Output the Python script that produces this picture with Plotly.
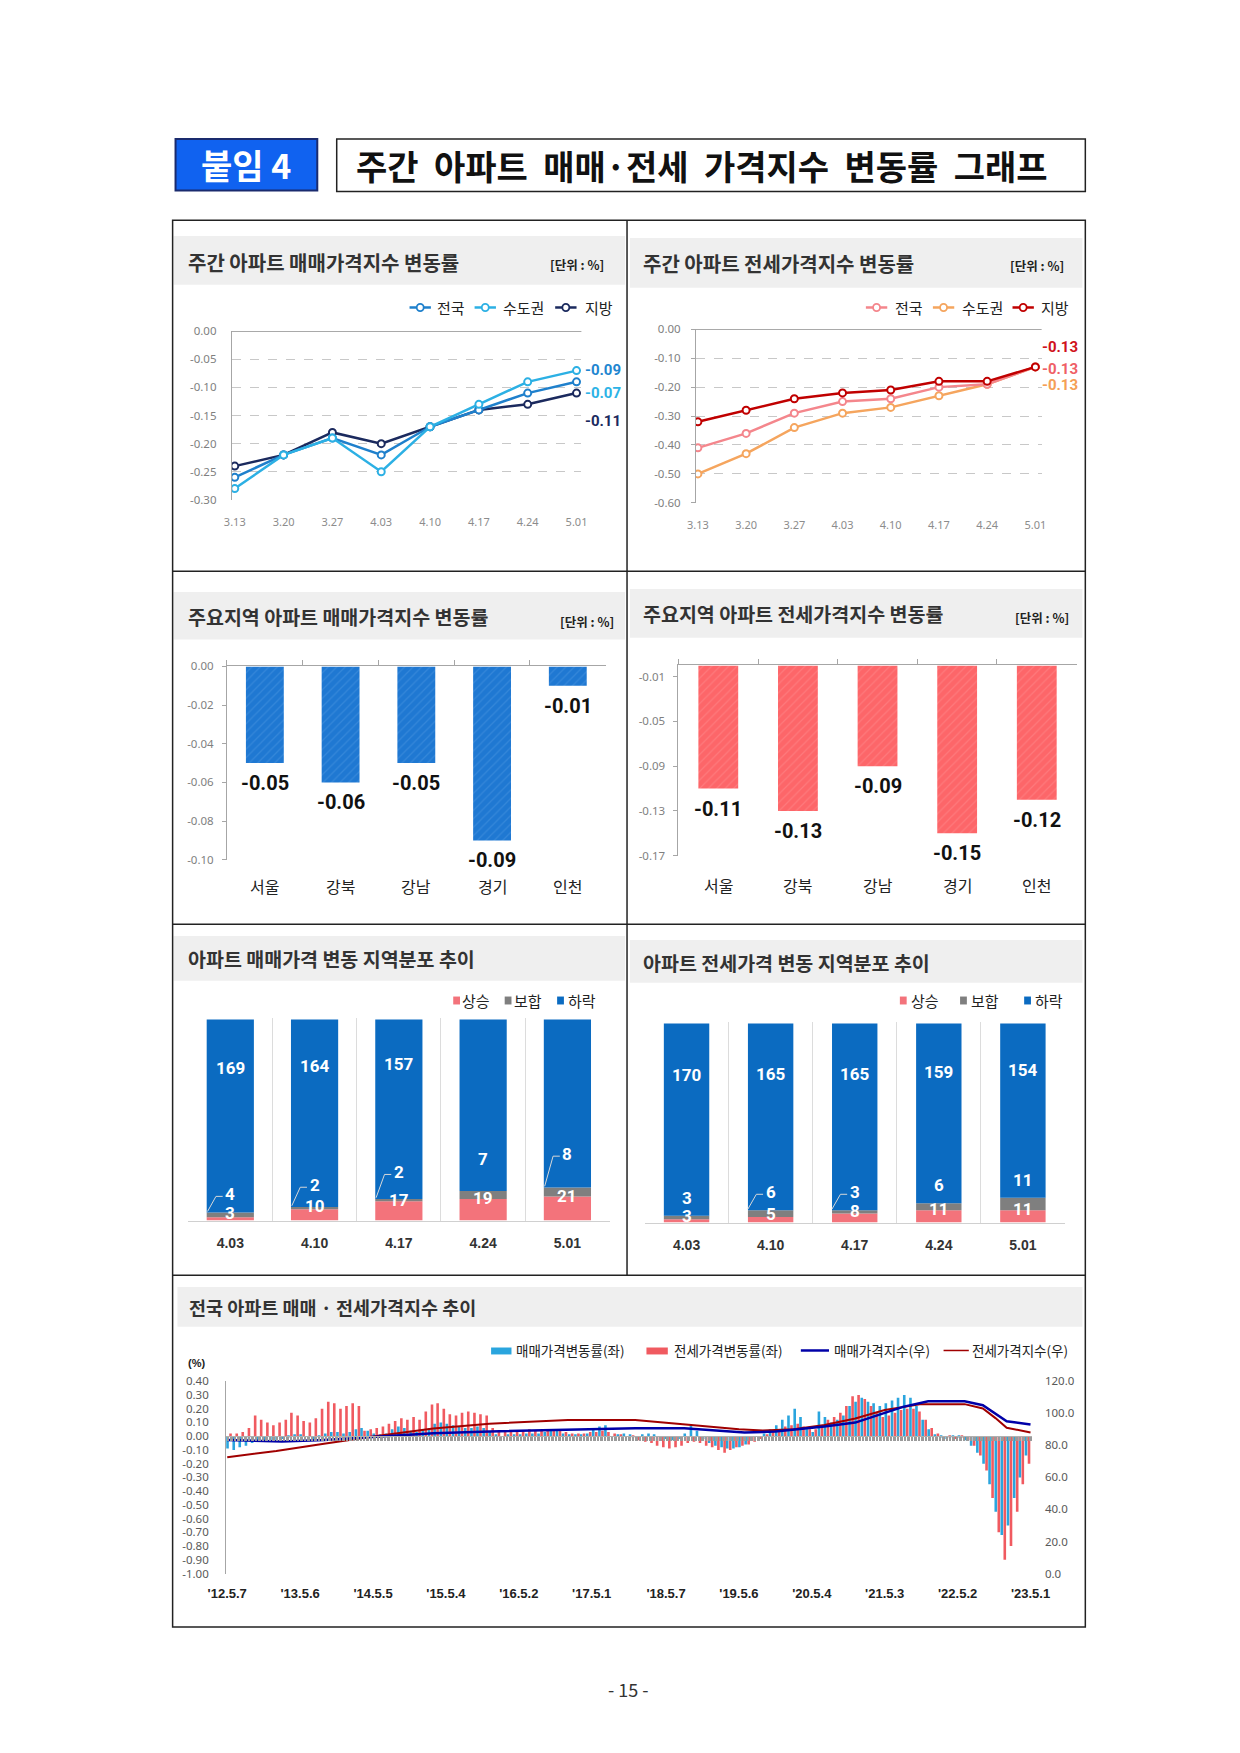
import plotly.graph_objects as go
import pandas as pd

W, H = 1240, 1753

# ---------------- data ----------------
weeks = ["3.13", "3.20", "3.27", "4.03", "4.10", "4.17", "4.24", "5.01"]
sale_nation = [-0.26, -0.22, -0.19, -0.22, -0.17, -0.14, -0.11, -0.09]
sale_capital = [-0.28, -0.22, -0.19, -0.25, -0.17, -0.13, -0.09, -0.07]
sale_local = [-0.24, -0.22, -0.18, -0.20, -0.17, -0.14, -0.13, -0.11]
jeonse_nation = [-0.41, -0.36, -0.29, -0.25, -0.24, -0.20, -0.19, -0.13]
jeonse_capital = [-0.50, -0.43, -0.34, -0.29, -0.27, -0.23, -0.19, -0.13]
jeonse_local = [-0.32, -0.28, -0.24, -0.22, -0.21, -0.18, -0.18, -0.13]
sale_ticks = [0.00, -0.05, -0.10, -0.15, -0.20, -0.25, -0.30]
jeonse_ticks = [0.00, -0.10, -0.20, -0.30, -0.40, -0.50, -0.60]

regions = ["서울", "강북", "강남", "경기", "인천"]
region_sale = [-0.05, -0.06, -0.05, -0.09, -0.01]
region_jeonse = [-0.11, -0.13, -0.09, -0.15, -0.12]
region_sale_ticks = [0.00, -0.02, -0.04, -0.06, -0.08, -0.10]
region_jeonse_ticks = [-0.01, -0.05, -0.09, -0.13, -0.17]

dist_weeks = ["4.03", "4.10", "4.17", "4.24", "5.01"]
sale_up = [3, 10, 17, 19, 21]
sale_flat = [4, 2, 2, 7, 8]
sale_down = [169, 164, 157, 150, 147]
sale_down_text = ["169", "164", "157", "", ""]
jeonse_up = [3, 5, 8, 11, 11]
jeonse_flat = [3, 6, 3, 6, 11]
jeonse_down = [170, 165, 165, 159, 154]
jeonse_down_text = ["170", "165", "165", "159", "154"]

# monthly readings (May 2012 - Apr 2023) of the weekly change rates (%)
trend_months = pd.date_range("2012-05-01", "2023-04-01", freq="MS")
sale_rate = [
    -0.09, -0.10, -0.08, -0.07, -0.05, -0.04, -0.03, -0.03,
    -0.03, -0.02, -0.01, 0.01, 0.01, 0.00, -0.02, -0.01, 0.02, 0.03, 0.03, 0.02,
    0.03, 0.05, 0.06, 0.04, 0.02, 0.01, 0.02, 0.05, 0.07, 0.06, 0.04, 0.03,
    0.05, 0.06, 0.09, 0.10, 0.09, 0.08, 0.07, 0.06, 0.06, 0.07, 0.06, 0.03,
    0.01, 0.00, 0.01, 0.01, 0.01, 0.02, 0.02, 0.02, 0.03, 0.05, 0.04, 0.02,
    0.01, 0.01, 0.01, 0.02, 0.05, 0.07, 0.08, 0.00, 0.01, 0.02, 0.01, 0.00,
    0.01, 0.02, 0.01, 0.00, -0.02, -0.03, -0.02, 0.02, 0.08, 0.04, -0.02, -0.05,
    -0.07, -0.08, -0.09, -0.09, -0.08, -0.06, -0.03, 0.00, 0.02, 0.05, 0.08, 0.12,
    0.15, 0.20, 0.14, 0.05, 0.03, 0.18, 0.14, 0.10, 0.12, 0.15, 0.22, 0.25,
    0.28, 0.25, 0.24, 0.22, 0.24, 0.26, 0.28, 0.30, 0.28, 0.22, 0.12, 0.05,
    0.01, -0.01, -0.02, -0.01, -0.01, -0.03, -0.07, -0.12, -0.20, -0.35, -0.55, -0.72,
    -0.65, -0.45, -0.30, -0.14,
]
jeonse_rate = [
    0.02, 0.02, 0.03, 0.06, 0.15, 0.12, 0.10, 0.08,
    0.10, 0.12, 0.17, 0.15, 0.11, 0.10, 0.13, 0.20, 0.25, 0.24, 0.20, 0.22,
    0.24, 0.22, 0.04, 0.05, 0.06, 0.07, 0.09, 0.11, 0.13, 0.12, 0.14, 0.12,
    0.18, 0.23, 0.24, 0.20, 0.16, 0.15, 0.17, 0.18, 0.17, 0.16, 0.15, 0.06,
    0.04, 0.03, 0.03, 0.04, 0.04, 0.05, 0.04, 0.04, 0.05, 0.05, 0.04, 0.03,
    0.02, 0.02, 0.02, 0.03, 0.03, 0.04, 0.03, 0.02, 0.01, 0.00, -0.01, -0.03,
    -0.04, -0.05, -0.07, -0.08, -0.09, -0.08, -0.07, -0.05, -0.04, -0.05, -0.07, -0.08,
    -0.10, -0.12, -0.10, -0.08, -0.07, -0.06, -0.04, -0.02, 0.01, 0.03, 0.05, 0.07,
    0.08, 0.09, 0.07, 0.05, 0.05, 0.08, 0.12, 0.14, 0.17, 0.22, 0.29, 0.30,
    0.27, 0.22, 0.17, 0.14, 0.15, 0.17, 0.19, 0.20, 0.20, 0.18, 0.12, 0.06,
    0.02, 0.00, -0.01, -0.02, -0.01, -0.03, -0.07, -0.14, -0.25, -0.45, -0.70, -0.90,
    -0.80, -0.55, -0.35, -0.20,
]
sale_index_dates = ["2012-05-07", "2013-02-04", "2013-09-02", "2014-06-02", "2015-03-02",
                    "2015-12-07", "2017-01-02", "2017-12-04", "2018-08-06", "2018-12-03",
                    "2019-06-03", "2019-11-04", "2020-02-03", "2020-07-06", "2020-12-07",
                    "2021-04-05", "2021-08-02", "2021-12-06", "2022-06-06", "2022-09-05",
                    "2022-11-07", "2023-01-02", "2023-05-01"]
sale_index = [83.4, 82.4, 83.4, 85.7, 87.6, 88.6, 89.6, 90.7, 90.7, 89.6, 88.0, 88.6, 89.6,
              91.7, 94.2, 98.9, 104.0, 107.5, 107.5, 105.0, 100.0, 95.0, 93.0]
jeonse_index_dates = ["2012-05-07", "2013-01-07", "2013-09-02", "2014-06-02", "2015-03-02",
                      "2015-12-07", "2017-01-02", "2017-12-04", "2018-06-04", "2019-05-06",
                      "2019-09-02", "2020-02-03", "2020-07-06", "2020-12-07", "2021-05-03",
                      "2021-11-01", "2022-06-06", "2022-09-05", "2022-11-07", "2023-01-02",
                      "2023-05-01"]
jeonse_index = [72.6, 76.5, 81.0, 86.0, 90.5, 93.5, 95.8, 95.8, 93.7, 90.0, 89.2, 90.0, 92.7,
                96.8, 102.0, 105.7, 105.7, 103.0, 97.0, 91.0, 88.0]
trend_ticks = ["2012-05-07", "2013-05-06", "2014-05-05", "2015-05-04", "2016-05-02",
               "2017-05-01", "2018-05-07", "2019-05-06", "2020-05-04", "2021-05-03",
               "2022-05-02", "2023-05-01"]
trend_tick_labels = ["'12.5.7", "'13.5.6", "'14.5.5", "'15.5.4", "'16.5.2", "'17.5.1",
                     "'18.5.7", "'19.5.6", "'20.5.4", "'21.5.3", "'22.5.2", "'23.5.1"]
rate_ticks = [0.40, 0.30, 0.20, 0.10, 0.00, -0.10, -0.20, -0.30, -0.40, -0.50,
              -0.60, -0.70, -0.80, -0.90, -1.00]
index_ticks = [0, 20, 40, 60, 80, 100, 120]

# ---------------- styles ----------------
KR = "Noto Sans CJK KR"
NUM = "Liberation Sans Narrow, Roboto, Noto Sans, sans-serif"
ARIAL = "Liberation Sans, Arial, sans-serif"
TICK = "Noto Sans, sans-serif"
BAND = "#efefef"
C_SN, C_SC, C_SL = "#1f80cc", "#2cb0e4", "#1b2a5e"
C_JN, C_JC, C_JL = "#f4868c", "#f5a55e", "#c00000"
C_UP, C_FLAT, C_DOWN = "#f3737b", "#7f7f7f", "#0b6bc1"
C_RATE_S, C_RATE_J = "#2aa5de", "#f05a60"
C_IDX_S, C_IDX_J = "#0000a8", "#a00000"
DAY = 86400000


def fx(p):
    return p / W


def fy(p):
    return 1 - p / H


shapes, annotations = [], []


def add_rect(x0, y0, x1, y1, fill=None, line=None, lw=0, layer="below"):
    shapes.append(dict(type="rect", xref="paper", yref="paper", x0=fx(x0), x1=fx(x1),
                       y0=fy(y1), y1=fy(y0), fillcolor=fill or "rgba(0,0,0,0)",
                       line=dict(color=line or "rgba(0,0,0,0)", width=lw), layer=layer))


def add_line(x0, y0, x1, y1, color, width=1.0, dash="solid", layer="above"):
    shapes.append(dict(type="line", xref="paper", yref="paper", x0=fx(x0), y0=fy(y0),
                       x1=fx(x1), y1=fy(y1), line=dict(color=color, width=width, dash=dash),
                       layer=layer))


def add_circle(cx, cy, r, color, lw=1.8):
    shapes.append(dict(type="circle", xref="paper", yref="paper", x0=fx(cx - r), x1=fx(cx + r),
                       y0=fy(cy + r), y1=fy(cy - r), fillcolor="white",
                       line=dict(color=color, width=lw), layer="above"))


def add_text(x, y, s, size, color="#222", anchor="left", family=KR, bold=False):
    annotations.append(dict(xref="paper", yref="paper", x=fx(x), y=fy(y),
                            text=f"<b>{s}</b>" if bold else s, showarrow=False,
                            xanchor=anchor, yanchor="middle",
                            font=dict(size=size, color=color, family=family)))


# ---------------- page decorations ----------------
add_rect(154, 124, 300, 176, fill="#1062f0", line="#1a2b6e", lw=2)
add_text(227, 150, "붙임 4", 34, "white", "center", bold=True)
add_rect(320, 124, 1091, 177, fill="white", line="#222", lw=1.5)
add_text(338, 151, "주간  아파트  매매·전세  가격지수  변동률  그래프", 34, "#111", "left", bold=True)
add_text(620, 1687, "- 15 -", 18, "#333", "center")

# panel title bands
add_rect(152, 222, 617, 271, fill=BAND)
add_rect(622, 224, 1088, 274, fill=BAND)
add_rect(152, 581, 617, 629, fill=BAND)
add_rect(622, 578, 1088, 627, fill=BAND)
add_rect(152, 928, 617, 973, fill=BAND)
add_rect(622, 932, 1088, 975, fill=BAND)
add_rect(156, 1282, 1088, 1322, fill=BAND)

add_text(165, 249, "주간 아파트 매매가격지수 변동률", 20, "#333", bold=True)
add_text(538, 251, "[단위 : %]", 12.5, "#222", bold=True)
add_text(633, 250, "주간 아파트 전세가격지수 변동률", 20, "#333", bold=True)
add_text(1011, 252, "[단위 : %]", 12.5, "#222", bold=True)
add_text(165, 606, "주요지역 아파트 매매가격지수 변동률", 19.5, "#333", bold=True)
add_text(548, 611, "[단위 : %]", 12.5, "#222", bold=True)
add_text(633, 603, "주요지역 아파트 전세가격지수 변동률", 19.5, "#333", bold=True)
add_text(1016, 607, "[단위 : %]", 12.5, "#222", bold=True)
add_text(165, 951, "아파트 매매가격 변동 지역분포 추이", 19.5, "#333", bold=True)
add_text(633, 955, "아파트 전세가격 변동 지역분포 추이", 19.5, "#333", bold=True)
add_text(166, 1302, "전국 아파트 매매 · 전세가격지수 추이", 18.5, "#333", bold=True)

# frame
add_rect(151, 206, 1091, 1625, line="#222", lw=1.5, layer="above")
add_line(619, 206, 619, 1270, "#222", 1.5)
for yy in (560, 916, 1270):
    add_line(151, yy, 1091, yy, "#222", 1.5)

# line-chart legends
for sx, tx, col, lab in [(395, 421, C_SN, "전국"), (462, 489, C_SC, "수도권"), (545, 574, C_SL, "지방"),
                         (865, 893, C_JN, "전국"), (934, 962, C_JC, "수도권"), (1016, 1043, C_JL, "지방")]:
    add_line(sx, 294, sx + 22, 294, col, 2.5)
    add_circle(sx + 11, 294, 3.6, col)
    add_text(tx, 294, lab, 15, "#222")

# stacked legends
for sq, tx, col, lab in [(440, 447, C_UP, "상승"), (493, 501, C_FLAT, "보합"), (547, 556, C_DOWN, "하락"),
                         (900, 909, C_UP, "상승"), (962, 971, C_FLAT, "보합"), (1028, 1037, C_DOWN, "하락")]:
    add_rect(sq, 989, sq + 7, 997, fill=col, layer="above")
    add_text(tx, 993, lab, 15, "#222")

# trend legend
add_rect(479, 1343, 500, 1350, fill=C_RATE_S, layer="above")
add_text(503, 1346, "매매가격변동률(좌)", 13.5, "#222")
add_rect(639, 1343, 661, 1350, fill=C_RATE_J, layer="above")
add_text(665, 1346, "전세가격변동률(좌)", 13.5, "#222")
add_line(798, 1346, 827, 1346, C_IDX_S, 2.5)
add_text(830, 1346, "매매가격지수(우)", 13.5, "#222")
add_line(945, 1346, 971, 1346, C_IDX_J, 1.5)
add_text(972, 1346, "전세가격지수(우)", 13.5, "#222")
add_text(176, 1359, "(%)", 11, "#222", "center", family=ARIAL, bold=True)

fig = go.Figure()

# ---------------- chart 1 & 2 : weekly lines ----------------
def line_trace(y, col, xa, ya):
    return go.Scatter(x=weeks, y=y, xaxis=xa, yaxis=ya, mode="lines+markers",
                      line=dict(color=col, width=2.5),
                      marker=dict(symbol="circle", size=7, color="white",
                                  line=dict(color=col, width=2)),
                      hoverinfo="skip")


for ser, col in [(sale_local, C_SL), (sale_nation, C_SN), (sale_capital, C_SC)]:
    fig.add_trace(line_trace(ser, col, "x", "y"))
for ser, col in [(jeonse_capital, C_JC), (jeonse_nation, C_JN), (jeonse_local, C_JL)]:
    fig.add_trace(line_trace(ser, col, "x2", "y2"))

last = len(weeks) - 1
for ser, col, dy in [(sale_nation, "#1f86d0", 12), (sale_capital, "#2db3e6", -22), (sale_local, C_SL, -28)]:
    annotations.append(dict(xref="x", yref="y", x=last, y=ser[-1], text=f"<b>{ser[-1]:.2f}</b>",
                            showarrow=False, xanchor="left", yanchor="middle", xshift=6, yshift=dy,
                            font=dict(size=15, color=col, family=NUM)))
for ser, col, dy in [(jeonse_local, "#d0121b", 20), (jeonse_nation, "#ef5f66", -2), (jeonse_capital, "#f5a055", -18)]:
    annotations.append(dict(xref="x2", yref="y2", x=last, y=ser[-1], text=f"<b>{ser[-1]:.2f}</b>",
                            showarrow=False, xanchor="left", yanchor="middle", xshift=5, yshift=dy,
                            font=dict(size=15, color=col, family=NUM)))
for xa, ya in [("x", "y"), ("x2", "y2")]:
    shapes.append(dict(type="line", xref=f"{xa} domain", yref=ya, x0=0, x1=1, y0=0, y1=0,
                       line=dict(color="#8c8c8c", width=1.3), layer="above"))

# ---------------- chart 3 & 4 : regional bars ----------------
fig.add_trace(go.Bar(x=regions, y=region_sale, xaxis="x3", yaxis="y3", width=0.5,
                     marker=dict(color="#1f78d2", line=dict(width=0),
                                 pattern=dict(shape="/", fgcolor="#4b95e0", bgcolor="#1f78d2",
                                              size=6, solidity=0.2, fillmode="overlay")),
                     hoverinfo="skip"))
fig.add_trace(go.Bar(x=regions, y=region_jeonse, xaxis="x4", yaxis="y4", width=0.5,
                     marker=dict(color="#fd6669", line=dict(width=0),
                                 pattern=dict(shape="/", fgcolor="#ff8d8f", bgcolor="#fd6669",
                                              size=6, solidity=0.2, fillmode="overlay")),
                     hoverinfo="skip"))
for xa, ya, vals, lab_y in [("x3", "y3", region_sale, 878), ("x4", "y4", region_jeonse, 877)]:
    for i, (r, v) in enumerate(zip(regions, vals)):
        annotations.append(dict(xref=xa, yref=ya, x=i, y=v, text=f"<b>{v:.2f}</b>", showarrow=False,
                                xanchor="center", yanchor="middle", yshift=-20,
                                font=dict(size=20, color="#111", family=NUM)))
        annotations.append(dict(xref=xa, yref="paper", x=i, y=fy(lab_y), text=r, showarrow=False,
                                xanchor="center", yanchor="middle",
                                font=dict(size=16, color="#222", family=KR)))

# ---------------- chart 5 & 6 : stacked distribution ----------------
def stacked(up, flat, down, down_text, xa, ya, width, up_k, up_c, flat_f, down_k, leaders):
    flat_base = list(up)
    down_base = [u + f for u, f in zip(up, flat)]
    fig.add_trace(go.Bar(x=dist_weeks, y=up, base=[0] * len(up), xaxis=xa, yaxis=ya, width=width,
                         marker=dict(color=C_UP, line=dict(width=0)), hoverinfo="skip"))
    fig.add_trace(go.Bar(x=dist_weeks, y=flat, base=flat_base, xaxis=xa, yaxis=ya, width=width,
                         marker=dict(color=C_FLAT, line=dict(width=0)), hoverinfo="skip"))
    fig.add_trace(go.Bar(x=dist_weeks, y=down, base=down_base, xaxis=xa, yaxis=ya, width=width,
                         marker=dict(color=C_DOWN, line=dict(width=0)), hoverinfo="skip"))
    for i in range(len(dist_weeks)):
        top = up[i] + flat[i]
        fy_lab = flat_f(top)
        items = [(up[i] * up_k + up_c, str(up[i])), (fy_lab, str(flat[i])),
                 (down_base[i] + down[i] * down_k, down_text[i])]
        for yv, s in items:
            if s:
                annotations.append(dict(xref=xa, yref=ya, x=i, y=yv, text=f"<b>{s}</b>",
                                        showarrow=False, xanchor="center", yanchor="middle",
                                        font=dict(size=17, color="white", family=NUM)))
        if leaders[i]:
            shapes.append(dict(type="line", xref=xa, yref=ya, x0=i - 0.27, y0=top + 1,
                               x1=i - 0.17, y1=fy_lab - 2, line=dict(color="#d8d8d8", width=1)))
            shapes.append(dict(type="line", xref=xa, yref=ya, x0=i - 0.17, y0=fy_lab - 2,
                               x1=i - 0.09, y1=fy_lab - 2, line=dict(color="#d8d8d8", width=1)))


stacked(sale_up, sale_flat, sale_down, sale_down_text, "x5", "y5", 0.56, 0.85, 4,
        lambda t: t * 1.6 + 12, 0.75, [True, True, True, False, True])
stacked(jeonse_up, jeonse_flat, jeonse_down, jeonse_down_text, "x6", "y6", 0.54, 0.8, 3.5,
        lambda t: t + 16, 0.73, [False, True, True, False, False])

# ---------------- chart 7 : long-term trend ----------------
fig.add_trace(go.Bar(x=trend_months, y=sale_rate, xaxis="x7", yaxis="y7", width=13 * DAY,
                     offset=1 * DAY, marker=dict(color=C_RATE_S, line=dict(width=0)),
                     hoverinfo="skip"))
fig.add_trace(go.Bar(x=trend_months, y=jeonse_rate, xaxis="x7", yaxis="y7", width=13 * DAY,
                     offset=16 * DAY, marker=dict(color=C_RATE_J, line=dict(width=0)),
                     hoverinfo="skip"))
fig.add_trace(go.Scatter(x=jeonse_index_dates, y=jeonse_index, xaxis="x7", yaxis="y8",
                         mode="lines", line=dict(color=C_IDX_J, width=2), hoverinfo="skip"))
fig.add_trace(go.Scatter(x=sale_index_dates, y=sale_index, xaxis="x7", yaxis="y8",
                         mode="lines", line=dict(color=C_IDX_S, width=2.5), hoverinfo="skip"))
fig.add_trace(go.Scatter(x=[trend_months[0]], y=[0], xaxis="x8", yaxis="y7", mode="markers",
                         marker=dict(opacity=0), hoverinfo="skip"))

# ---------------- layout ----------------
tickf = dict(size=11.5, color="#7f7f7f", family=TICK)


def fmt(vals, f):
    return [format(v, f) for v in vals]


layout = dict(
    width=W, height=H, margin=dict(l=0, r=0, t=0, b=0), showlegend=False,
    paper_bgcolor="white", plot_bgcolor="rgba(0,0,0,0)", barmode="overlay",
    font=dict(family=KR, color="#222"),
    xaxis=dict(domain=[fx(212), fx(572)], anchor="y", type="category", range=[-0.06, 7.1],
               showgrid=False, showline=False, zeroline=False, ticks="",
               tickfont=dict(size=11, color="#8c8c8c", family=TICK), ticklabelstandoff=14),
    yaxis=dict(domain=[fy(488), fy(318)], anchor="x", range=[-0.30, 0.0],
               tickvals=sale_ticks, ticktext=fmt(sale_ticks, ".2f"), showgrid=True,
               gridcolor="#c8c8c8", griddash="dash", showline=True, linecolor="#a6a6a6",
               zeroline=False, ticks="", tickfont=tickf, ticklabelstandoff=12),
    xaxis2=dict(domain=[fx(690), fx(1046)], anchor="y2", type="category", range=[-0.04, 7.13],
                showgrid=False, showline=False, zeroline=False, ticks="",
                tickfont=dict(size=11, color="#8c8c8c", family=TICK), ticklabelstandoff=14),
    yaxis2=dict(domain=[fy(491), fy(316)], anchor="x2", range=[-0.60, 0.0],
                tickvals=jeonse_ticks, ticktext=fmt(jeonse_ticks, ".2f"), showgrid=True,
                gridcolor="#c8c8c8", griddash="dash", showline=True, linecolor="#a6a6a6",
                zeroline=False, ticks="outside", ticklen=4, tickcolor="#a6a6a6",
                tickfont=tickf, ticklabelstandoff=8),
    xaxis3=dict(domain=[fx(207), fx(597)], anchor="y3", type="category", range=[-0.5, 4.5],
                side="top", tickson="boundaries", ticks="outside", ticklen=5,
                tickcolor="#a6a6a6", showline=True, linecolor="#a6a6a6",
                showticklabels=False, showgrid=False, zeroline=False),
    yaxis3=dict(domain=[fy(851), fy(656)], anchor="x3", range=[-0.10, 0.0],
                tickvals=region_sale_ticks, ticktext=fmt(region_sale_ticks, ".2f"),
                showgrid=False, showline=True, linecolor="#a6a6a6", zeroline=False,
                ticks="outside", ticklen=4, tickcolor="#a6a6a6", tickfont=tickf,
                ticklabelstandoff=6),
    xaxis4=dict(domain=[fx(672), fx(1082)], anchor="y4", type="category", range=[-0.5, 4.5],
                side="top", tickson="boundaries", ticks="outside", ticklen=5,
                tickcolor="#a6a6a6", showline=True, linecolor="#a6a6a6",
                showticklabels=False, showgrid=False, zeroline=False),
    yaxis4=dict(domain=[fy(847), fy(655)], anchor="x4", range=[-0.17, 0.0],
                tickvals=region_jeonse_ticks, ticktext=fmt(region_jeonse_ticks, ".2f"),
                showgrid=False, showline=True, linecolor="#a6a6a6", zeroline=False,
                ticks="outside", ticklen=4, tickcolor="#a6a6a6", tickfont=tickf,
                ticklabelstandoff=6),
    xaxis5=dict(domain=[fx(167), fx(601)], anchor="y5", type="category", range=[-0.5, 4.5],
                tickson="boundaries", showgrid=True, gridcolor="#dcdcdc", showline=True,
                linecolor="#d0d0d0", ticks="", zeroline=False,
                tickfont=dict(size=14, color="#333", family=ARIAL, weight="bold"),
                ticklabelstandoff=10),
    yaxis5=dict(domain=[fy(1215), fy(1011)], anchor="x5", range=[0, 177], visible=False),
    xaxis6=dict(domain=[fx(637), fx(1070)], anchor="y6", type="category", range=[-0.5, 4.5],
                tickson="boundaries", showgrid=True, gridcolor="#dcdcdc", showline=True,
                linecolor="#d0d0d0", ticks="", zeroline=False,
                tickfont=dict(size=14, color="#333", family=ARIAL, weight="bold"),
                ticklabelstandoff=10),
    yaxis6=dict(domain=[fy(1217), fy(1015)], anchor="x6", range=[0, 177], visible=False),
    xaxis7=dict(domain=[fx(206), fx(1036)], anchor="y7", type="date",
                range=["2012-05-01", "2023-05-08"], tickvals=trend_ticks,
                ticktext=trend_tick_labels, ticks="", showgrid=False, showline=False,
                zeroline=False, tickfont=dict(size=13, color="#222", family=ARIAL, weight="bold"),
                ticklabelstandoff=10),
    yaxis7=dict(domain=[fy(1571), fy(1377)], anchor="x7", range=[-1.0, 0.4],
                tickvals=rate_ticks, ticktext=fmt(rate_ticks, ".2f"), showgrid=False,
                showline=True, linecolor="#a6a6a6", zeroline=False, ticks="",
                tickfont=dict(size=11.5, color="#595959", family=TICK), ticklabelstandoff=14),
    yaxis8=dict(overlaying="y7", anchor="x7", side="right", range=[0, 120],
                tickvals=index_ticks, ticktext=fmt(index_ticks, ".1f"), showgrid=False,
                showline=False, zeroline=False, ticks="",
                tickfont=dict(size=11.5, color="#595959", family=TICK), ticklabelstandoff=12),
    xaxis8=dict(overlaying="x7", anchor="free", position=fy(1432), type="date",
                range=["2012-05-01", "2023-05-08"], tick0="2012-05-07", dtick=7 * DAY,
                ticks="outside", ticklen=4, tickcolor="#9a9a9a", tickwidth=1,
                showticklabels=False, showline=True, linecolor="#b0b0b0", showgrid=False,
                zeroline=False),
    shapes=shapes, annotations=annotations,
)
fig.update_layout(**layout)
fig.write_html("out.html")
